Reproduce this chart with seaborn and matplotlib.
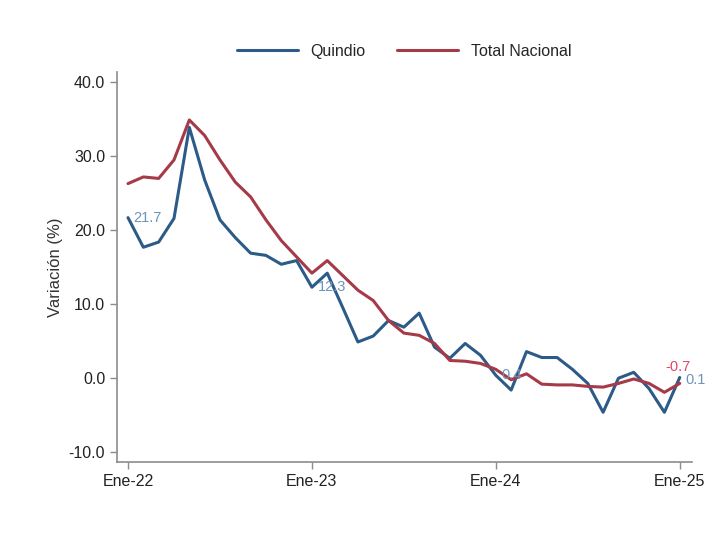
import numpy as np
import pandas as pd
import matplotlib
matplotlib.use("Agg")
import matplotlib.pyplot as plt
import seaborn as sns

# Datos (ene-22 a ene-25, mensual)
meses = list(range(37))
quindio = [21.7, 17.7, 18.4, 21.6, 33.9, 26.8, 21.4, 19.0, 16.9, 16.6, 15.4, 15.9,
           12.3, 14.2, 9.6, 4.9, 5.7, 7.8, 6.9, 8.8, 4.2, 2.7, 4.7, 3.1,
           0.4, -1.6, 3.6, 2.8, 2.8, 1.2, -0.7, -4.6, 0.0, 0.8, -1.4, -4.6, 0.1]
nacional = [26.3, 27.2, 27.0, 29.5, 34.9, 32.8, 29.5, 26.5, 24.5, 21.4, 18.6, 16.4,
            14.2, 15.9, 13.9, 11.9, 10.5, 7.8, 6.1, 5.8, 4.7, 2.4, 2.3, 2.0,
            1.2, -0.2, 0.6, -0.8, -0.9, -0.9, -1.1, -1.2, -0.7, -0.1, -0.7, -1.9, -0.7]
ticks_x = [0, 12, 24, 36]
etiquetas_x = ["Ene-22", "Ene-23", "Ene-24", "Ene-25"]
ticks_y = [-10, 0, 10, 20, 30, 40]

df = pd.DataFrame({
    "mes": meses * 2,
    "valor": quindio + nacional,
    "serie": ["Quindio"] * len(meses) + ["Total Nacional"] * len(meses),
})

sns.set_style("white")
plt.rcParams["font.family"] = ["Liberation Sans", "DejaVu Sans"]

azul = "#2c5b88"
rojo = "#a53a48"

fig = plt.figure(figsize=(7.09, 5.35), dpi=100)
ax = fig.add_axes([0.165, 0.136, 0.811, 0.729])
sns.lineplot(data=df, x="mes", y="valor", hue="serie",
             palette={"Quindio": azul, "Total Nacional": rojo},
             linewidth=2.2, ax=ax)

# etiquetas de valores
for i in [0, 12, 24]:
    ax.annotate(f"{quindio[i]:.1f}", (meses[i], quindio[i]), xytext=(4, 0),
                textcoords="offset points", va="center", fontsize=10.5, color="#6d93bb")
ax.annotate("0.1", (meses[-1], quindio[-1]), xytext=(4, -2), textcoords="offset points",
            va="center", fontsize=10.5, color="#6d93bb", annotation_clip=False)
ax.annotate(f"{nacional[-1]:.1f}", (meses[-1], nacional[-1]), xytext=(-10, 7),
            textcoords="offset points", va="bottom", fontsize=10.5, color="#e2465e",
            annotation_clip=False)

ax.set_xlim(-0.72, 36.8)
ax.set_ylim(-11.35, 41.35)
ax.set_xticks(ticks_x)
ax.set_xticklabels(etiquetas_x)
ax.set_yticks(ticks_y)
ax.set_yticklabels([f"{v:.1f}" for v in ticks_y])
ax.set_xlabel("")
ax.set_ylabel("Variación (%)", fontsize=12, color="#333333")

for s in ["top", "right"]:
    ax.spines[s].set_visible(False)
for s in ["left", "bottom"]:
    ax.spines[s].set_color("#8c8c8c")
    ax.spines[s].set_linewidth(1.2)
ax.tick_params(axis="both", direction="out", length=5, width=1, color="#8c8c8c",
               labelsize=11.5, labelcolor="#222222", left=True, bottom=True)

h, l = ax.get_legend_handles_labels()
leg = ax.legend(h, l, loc="upper center", ncol=2, frameon=False, fontsize=11.5,
                handlelength=3.8, columnspacing=2.0)
leg.set_bbox_to_anchor((0.57, 0.945), transform=fig.transFigure)

fig.savefig("out.png", dpi=100)
